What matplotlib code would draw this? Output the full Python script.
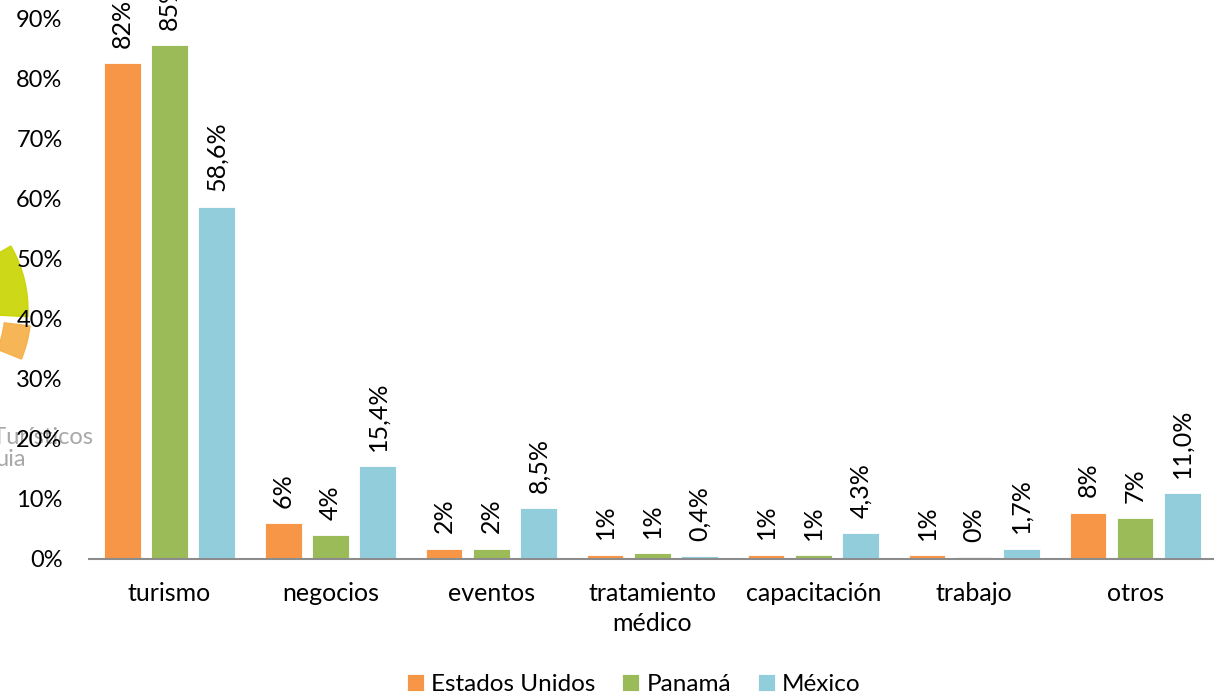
import numpy as np
import matplotlib.pyplot as plt
from matplotlib.patches import Wedge

plt.rcParams['font.family'] = ['Lato', 'DejaVu Sans']

categorias = ['turismo', 'negocios', 'eventos', 'tratamiento\nmédico',
              'capacitación', 'trabajo', 'otros']
series = ['Estados Unidos', 'Panamá', 'México']
estados_unidos = [82.5, 6.0, 1.7, 0.7, 0.7, 0.6, 7.7]
panama = [85.5, 4.0, 1.7, 1.0, 0.6, 0.3, 6.8]
mexico = [58.6, 15.4, 8.5, 0.4, 4.3, 1.7, 11.0]
etiquetas_eu = ['82%', '6%', '2%', '1%', '1%', '1%', '8%']
etiquetas_pa = ['85%', '4%', '2%', '1%', '1%', '0%', '7%']
etiquetas_mx = ['58,6%', '15,4%', '8,5%', '0,4%', '4,3%', '1,7%', '11,0%']
colores = ['#F79646', '#9BBB59', '#92CDDC']
yticks = [0, 10, 20, 30, 40, 50, 60, 70, 80, 90]

fig = plt.figure(figsize=(12.14, 6.96), dpi=100)

# faint watermark logo behind the chart (cut at the left edge)
wm = fig.add_axes([0, 0, 1, 1], zorder=0)
wm.set_xlim(0, 1214)
wm.set_ylim(696, 0)
wm.axis('off')
wm.add_patch(Wedge((-100, 310), 128, -30, 3, width=30, color='#C8D400', alpha=0.9))
wm.add_patch(Wedge((-100, 310), 131, 7, 22, width=26, color='#F6AE45', alpha=0.9))
wm.text(93, 437, 's Turísticos', fontsize=17, color='#A8A8A8', va='center', ha='right')
wm.text(26, 459, 'uia', fontsize=17, color='#A8A8A8', va='center', ha='right')

ax = fig.add_axes([0.0733, 0.197, 0.94, 0.803], zorder=1)
ax.patch.set_alpha(0)

x = np.arange(len(categorias))
ancho = 0.227
paso = 0.293
for i, (vals, labs) in enumerate(zip([estados_unidos, panama, mexico],
                                     [etiquetas_eu, etiquetas_pa, etiquetas_mx])):
    pos = x + (i - 1) * paso
    ax.bar(pos, vals, width=ancho, color=colores[i], label=series[i],
           edgecolor='white', linewidth=0.6)
    for p, v, t in zip(pos, vals, labs):
        ax.annotate(t, (p, v), xytext=(0, 11), textcoords='offset points',
                    rotation=90, ha='center', va='bottom', fontsize=18,
                    annotation_clip=False)

ax.set_xlim(-0.5, len(categorias) - 0.5 + 0.09)
ax.set_ylim(0, 93.0)
ax.set_yticks(yticks)
ax.set_yticklabels([f'{v}%' for v in yticks])
ax.set_xticks(x)
ax.set_xticklabels(categorias, linespacing=1.35)
ax.tick_params(axis='both', length=0, labelsize=18)
ax.tick_params(axis='y', labelsize=17, pad=19)
ax.tick_params(axis='x', pad=17)
for s in ['top', 'right', 'left']:
    ax.spines[s].set_visible(False)
ax.spines['bottom'].set_color('#8C8C8C')
ax.spines['bottom'].set_linewidth(1.5)

fig.legend(loc='lower center', bbox_to_anchor=(0.522, -0.03), ncol=3,
           frameon=False, fontsize=17.5, handlelength=0.7, handleheight=0.7,
           handletextpad=0.3, columnspacing=1.1)

fig.savefig('out.png', dpi=100)
